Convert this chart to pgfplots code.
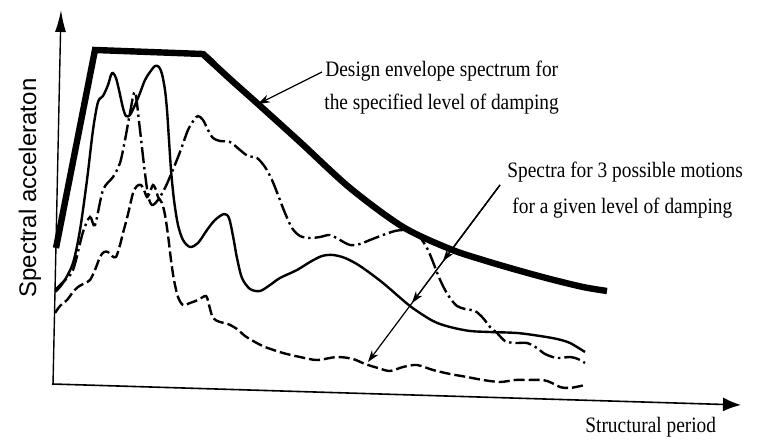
\documentclass[border=0pt]{standalone}
\usepackage{pgfplots}
\pgfplotsset{compat=1.18}
\usetikzlibrary{arrows.meta}
\usepackage{fontspec}
\setmainfont{Liberation Serif}[FakeStretch=0.88]
\newfontfamily\labelfont{Liberation Sans}
\begin{document}
\begin{tikzpicture}
\begin{axis}[scale only axis, width=383.5pt, height=224pt,
  xmin=0, xmax=767, ymin=0, ymax=448, y dir=reverse,
  hide axis, clip=false]
\path (axis cs:0,0) rectangle (axis cs:767,448);
% axes
\addplot[black, line width=0.7pt, -{Latex[length=11pt,width=5.5pt]}] coordinates {(53,385) (61,10)};
\addplot[black, line width=0.8pt, -{Latex[length=9pt,width=7pt]}] coordinates {(52,384) (741,405)};
% envelope
\addplot[black, line width=3.2pt, line join=miter] coordinates {(56,248) (95,50) (203,54) (214,64)};
\addplot[black, line width=3.2pt, smooth, tension=0.5] coordinates {(203,54) (230,79) (258,104) (300,142) (350,188) (403,227) (450,249) (483,260) (517,270) (550,279) (583,287) (607,291)};
% solid
\addplot[black, line width=1.2pt, smooth, tension=0.5] coordinates {(55,292) (63,283) (73,263) (80,230) (87,180) (93,130) (98,102) (103,96) (108,85) (111,75) (113,73) (116,78) (119,90) (123,108) (126,116) (130,115) (135,105) (140,93) (145,80) (150,72) (155,66) (159,67) (162,74) (165,90) (167,110) (169,140) (171,170) (174,200) (178,225) (183,240) (190,247) (198,243) (207,230) (215,220) (224,214) (229,218) (233,236) (237,258) (242,278) (250,289) (260,291) (270,285) (280,278) (297,270) (310,262) (322,256) (333,255) (345,258) (360,266) (383,283) (410,306) (433,321) (450,327) (470,331) (490,332) (517,333) (540,336) (557,339) (570,343) (585,352)};
% dash-dot
\addplot[black, line width=1.2pt, smooth, tension=0.5, dash pattern=on 8pt off 2pt on 1.2pt off 2pt] coordinates {(55,290) (63,282) (73,270) (83,232) (90,217) (95,225) (103,190) (113,177) (120,163) (125,140) (130,113) (135,92) (140,130) (144,165) (148,195) (152,205) (158,200) (165,188) (172,172) (180,152) (188,130) (194,120) (198,116) (203,120) (208,130) (213,138) (220,141) (230,142) (240,150) (248,156) (257,158) (265,167) (272,180) (278,195) (285,213) (292,228) (300,236) (310,238) (320,237) (330,235) (340,240) (350,245) (360,244) (370,240) (383,235) (395,231) (405,230) (415,232) (422,240) (428,250) (433,262) (438,275) (444,288) (450,298) (457,306) (465,309) (475,311) (483,318) (490,327) (497,333) (505,341) (515,343) (527,343) (537,348) (545,354) (557,358) (570,357) (578,359) (585,363)};
% dashed
\addplot[black, line width=1.2pt, smooth, tension=0.5, dash pattern=on 5.5pt off 2pt] coordinates {(55,313) (60,306) (67,300) (73,292) (78,287) (85,283) (90,280) (95,270) (100,257) (104,252) (108,252) (112,256) (116,257) (120,245) (123,233) (126,222) (129,210) (133,193) (137,186) (141,185) (144,190) (147,197) (150,192) (153,185) (156,190) (158,197) (162,203) (165,215) (168,235) (171,260) (174,280) (178,297) (183,305) (190,303) (198,300) (206,296) (209,305) (213,318) (220,322) (228,324) (237,329) (245,336) (255,342) (265,347) (283,353) (300,357) (317,360) (337,357) (353,359) (365,364) (378,368) (390,371) (403,367) (417,365) (433,370) (450,374) (467,377) (483,380) (500,382) (515,380) (527,380) (543,380) (552,383) (560,387) (570,388) (585,385)};
% annotations
\draw[line width=0.6pt, -{Stealth[length=6pt,width=4pt]}] (axis cs:322,72) -- (axis cs:258,104);
\draw[line width=0.6pt, -{Stealth[length=6pt,width=4pt]}] (axis cs:500,185) -- (axis cs:443,261);
\draw[line width=0.6pt, -{Stealth[length=6pt,width=4pt]}] (axis cs:500,185) -- (axis cs:412,303);
\draw[line width=0.6pt, -{Stealth[length=6pt,width=4pt]}] (axis cs:500,185) -- (axis cs:368,362);
\node[anchor=base west, inner sep=0pt, font=\fontsize{11}{13}\selectfont] at (axis cs:325,77) {Design envelope spectrum for};
\node[anchor=base west, inner sep=0pt, font=\fontsize{11}{13}\selectfont] at (axis cs:324,110) {the specified level of damping};
\node[anchor=base west, inner sep=0pt, font=\fontsize{11}{13}\selectfont] at (axis cs:507,178) {Spectra for 3 possible motions};
\node[anchor=base west, inner sep=0pt, font=\fontsize{11}{13}\selectfont] at (axis cs:512,214) {for a given level of damping};
\node[anchor=base west, inner sep=0pt, font=\fontsize{11}{13}\selectfont] at (axis cs:585,433) {Structural period};
\node[anchor=base, rotate=90, inner sep=0pt, font=\labelfont\fontsize{12}{14}\selectfont] at (axis cs:36,188) {Spectral acceleraton};
\end{axis}
\end{tikzpicture}
\end{document}
